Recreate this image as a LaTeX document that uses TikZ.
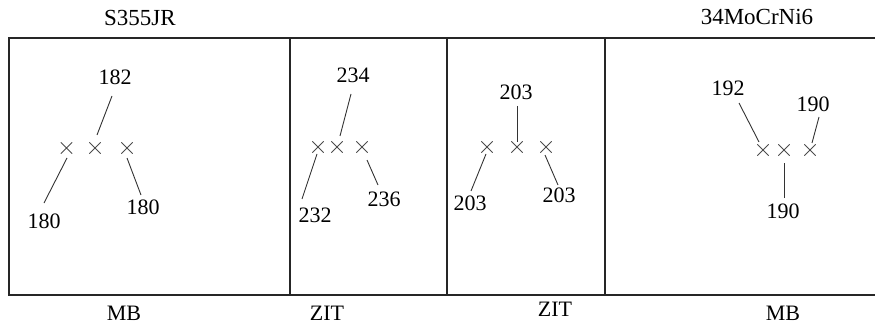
\documentclass[tikz,border=0pt]{standalone}
\usepackage{fontspec}
\setmainfont{Liberation Serif}
\usetikzlibrary{shapes.misc}
\tikzset{
  head/.style={inner sep=0pt, font=\fontsize{23}{27}\selectfont},
  foot/.style={inner sep=0pt, font=\fontsize{22}{26}\selectfont},
  num/.style={inner sep=0pt, font=\fontsize{22}{26}\selectfont},
  xmark/.style={cross out, draw=black!70, line width=0.8pt, minimum size=10.5pt, inner sep=0pt},
  lead/.style={draw=black!80, line width=0.9pt},
  frame/.style={draw=black!85, line width=1.3pt}
}
\begin{document}
\begin{tikzpicture}[x=1pt, y=-1pt]
\useasboundingbox (0,0) rectangle (875,326);

% frame: open on the right, three inner dividers
\draw[frame] (875,38) -- (9,38) -- (9,295) -- (875,295);
\draw[frame] (290,38) -- (290,295);
\draw[frame] (447,38) -- (447,295);
\draw[frame] (605,38) -- (605,295);

% headings and footings
\node[head] (h1) at (140,18) {S355JR};
\node[head] (h4) at (757,17) {34MoCrNi6};
\node[foot] (f1) at (124,313) {MB};
\node[foot] (f2) at (327,313) {ZIT};
\node[foot] (f3) at (555,309) {ZIT};
\node[foot] (f4) at (783,313) {MB};

% panel 1
\node[xmark] (p1a) at (66.5,148) {};
\node[xmark] (p1b) at (95,148) {};
\node[xmark] (p1c) at (127,148) {};
\node[num] (n1b) at (115,77) {182};
\node[num] (n1a) at (44,221) {180};
\node[num] (n1c) at (143,207) {180};
\coordinate (e1b) at (112,96);  \coordinate (s1b) at (97,135);
\coordinate (e1a) at (44,203);  \coordinate (s1a) at (67,158);
\coordinate (e1c) at (141,195); \coordinate (s1c) at (127,158);
\draw[lead] (e1b) -- (s1b);
\draw[lead] (e1a) -- (s1a);
\draw[lead] (e1c) -- (s1c);

% panel 2
\node[xmark] (p2a) at (318,147) {};
\node[xmark] (p2b) at (337,147) {};
\node[xmark] (p2c) at (362,147) {};
\node[num] (n2b) at (353,75) {234};
\node[num] (n2a) at (315,215) {232};
\node[num] (n2c) at (384,199) {236};
\coordinate (e2b) at (351,94);  \coordinate (s2b) at (340,136);
\coordinate (e2a) at (302,199); \coordinate (s2a) at (317,154);
\coordinate (e2c) at (378,185); \coordinate (s2c) at (367,160);
\draw[lead] (e2b) -- (s2b);
\draw[lead] (e2a) -- (s2a);
\draw[lead] (e2c) -- (s2c);

% panel 3
\node[xmark] (p3a) at (487,147) {};
\node[xmark] (p3b) at (517,147) {};
\node[xmark] (p3c) at (546,147) {};
\node[num] (n3b) at (516,92) {203};
\node[num] (n3a) at (470,203) {203};
\node[num] (n3c) at (559,195) {203};
\coordinate (e3b) at (517,106); \coordinate (s3b) at (517,142);
\coordinate (e3a) at (471,191); \coordinate (s3a) at (486,154);
\coordinate (e3c) at (558,185); \coordinate (s3c) at (545,155);
\draw[lead] (e3b) -- (s3b);
\draw[lead] (e3a) -- (s3a);
\draw[lead] (e3c) -- (s3c);

% panel 4
\node[xmark] (p4a) at (763,150) {};
\node[xmark] (p4b) at (784,150) {};
\node[xmark] (p4c) at (810,150) {};
\node[num] (n4a) at (728,88) {192};
\node[num] (n4c) at (813,104) {190};
\node[num] (n4b) at (783,211) {190};
\coordinate (e4a) at (739,103); \coordinate (s4a) at (759,142);
\coordinate (e4c) at (819,117); \coordinate (s4c) at (812,143);
\coordinate (e4b) at (784,198); \coordinate (s4b) at (784,163);
\draw[lead] (e4a) -- (s4a);
\draw[lead] (e4c) -- (s4c);
\draw[lead] (e4b) -- (s4b);
\end{tikzpicture}
\end{document}
